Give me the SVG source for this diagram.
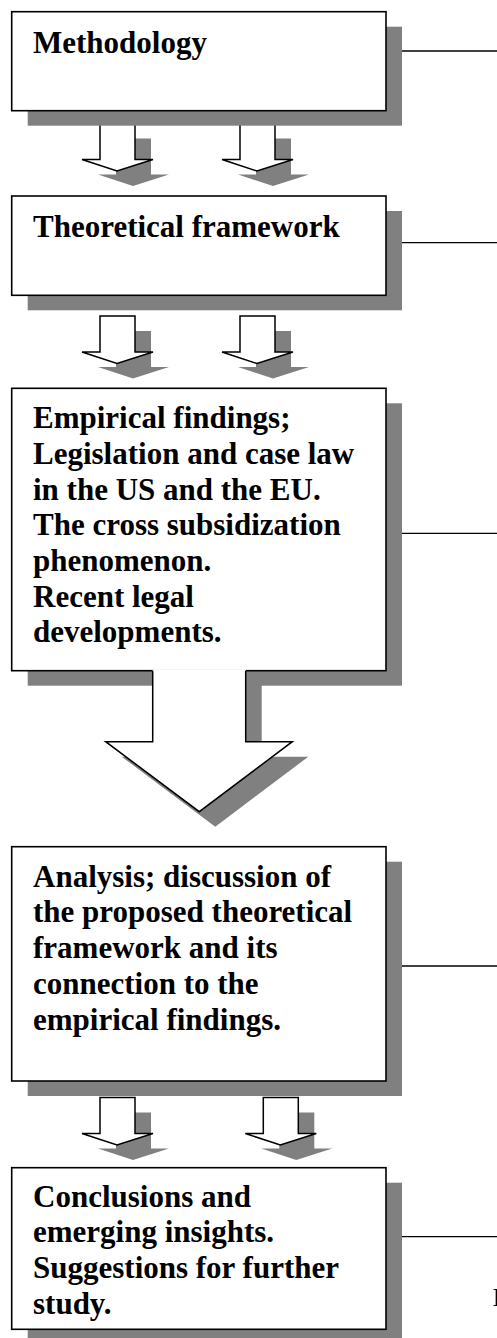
<svg xmlns="http://www.w3.org/2000/svg" width="497" height="1338" viewBox="0 0 497 1338">
<defs>
<style>
.sh{fill:#808080;stroke:none}
.box{fill:#fff;stroke:#000;stroke-width:1.6}
.arr{fill:#fff;stroke:#000;stroke-width:1.5;stroke-linejoin:miter}
.ln{stroke:#000;stroke-width:1.3;fill:none}
.t{font-family:"Liberation Serif","Times New Roman",serif;font-weight:bold;font-size:31px;fill:#000}
</style>
<path id="sa" d="M0,0 V36 H-18 L17,47.5 L53,36 H35 V0 Z"/>
</defs>
<rect width="497" height="1338" fill="#fff"/>
<g id="connectors">
<line class="ln" x1="386" y1="51" x2="497" y2="51"/>
<line class="ln" x1="386" y1="242.7" x2="497" y2="242.7"/>
<line class="ln" x1="386" y1="533.3" x2="497" y2="533.3"/>
<line class="ln" x1="386" y1="966" x2="497" y2="966"/>
<line class="ln" x1="386" y1="1236.7" x2="497" y2="1236.7"/>
</g>
<g id="small-arrows">
<g transform="translate(100,123.5)"><use href="#sa" class="sh" transform="translate(16,15)"/><use href="#sa" class="arr"/></g>
<g transform="translate(240,123.5)"><use href="#sa" class="sh" transform="translate(16,15)"/><use href="#sa" class="arr"/></g>
<g transform="translate(100,316)"><use href="#sa" class="sh" transform="translate(16,15)"/><use href="#sa" class="arr"/></g>
<g transform="translate(240,316)"><use href="#sa" class="sh" transform="translate(16,15)"/><use href="#sa" class="arr"/></g>
<g transform="translate(100,1097.5)"><use href="#sa" class="sh" transform="translate(16,15)"/><use href="#sa" class="arr"/></g>
<g transform="translate(263.3,1097.5)"><use href="#sa" class="sh" transform="translate(16,15)"/><use href="#sa" class="arr"/></g>
</g>
<g id="node-methodology">
<rect class="sh" x="27.7" y="26.7" width="374.3" height="99"/>
<rect class="box" x="11.7" y="11.7" width="374.3" height="99"/>
<text class="t" x="33" y="53.3">Methodology</text>
</g>
<g id="node-theoretical">
<rect class="sh" x="27.7" y="211" width="374.3" height="99.3"/>
<rect class="box" x="11.7" y="196" width="374.3" height="99.3"/>
<text class="t" x="33" y="236.7">Theoretical framework</text>
</g>
<g id="node-empirical">
<rect class="sh" x="27.7" y="403.3" width="374.3" height="282.4"/>
<path class="sh" d="M168.7,685 V756.7 H121.7 L215.3,826.7 L308.3,756.7 H261.7 V685 Z"/>
<rect class="box" x="11.7" y="388.3" width="374.3" height="282.4"/>
<path d="M152.7,669.5 V741.7 H105.7 L199.3,811.7 L292.3,741.7 H245.7 V669.5 Z" fill="#fff" stroke="none"/>
<polyline class="arr" fill="none" points="152.7,670.7 152.7,741.7 105.7,741.7 199.3,811.7 292.3,741.7 245.7,741.7 245.7,670.7"/>
<text class="t" x="33" y="428.3">Empirical findings;</text>
<text class="t" x="33" y="463.8">Legislation and case law</text>
<text class="t" x="33" y="499.5">in the US and the EU.</text>
<text class="t" x="33" y="535.2">The cross subsidization</text>
<text class="t" x="33" y="570.9">phenomenon.</text>
<text class="t" x="33" y="606.6">Recent legal</text>
<text class="t" x="33" y="642.3">developments.</text>
</g>
<g id="node-analysis">
<rect class="sh" x="27.7" y="861.7" width="374.3" height="234.3"/>
<rect class="box" x="11.7" y="846.7" width="374.3" height="234.3"/>
<text class="t" x="33" y="886.7">Analysis; discussion of</text>
<text class="t" x="33" y="922.4">the proposed theoretical</text>
<text class="t" x="33" y="958.1">framework and its</text>
<text class="t" x="33" y="993.8">connection to the</text>
<text class="t" x="33" y="1029.5">empirical findings.</text>
</g>
<g id="node-conclusions">
<rect class="sh" x="27.7" y="1182.7" width="374.3" height="161.6"/>
<rect class="box" x="11.7" y="1167.7" width="374.3" height="161.6"/>
<text class="t" x="33" y="1206.7">Conclusions and</text>
<text class="t" x="33" y="1242.4">emerging insights.</text>
<text class="t" x="33" y="1278.1">Suggestions for further</text>
<text class="t" x="33" y="1313.8">study.</text>
</g>
<text x="492.5" y="1306" font-family="'Liberation Serif','Times New Roman',serif" font-size="26" fill="#000">I</text>
</svg>
